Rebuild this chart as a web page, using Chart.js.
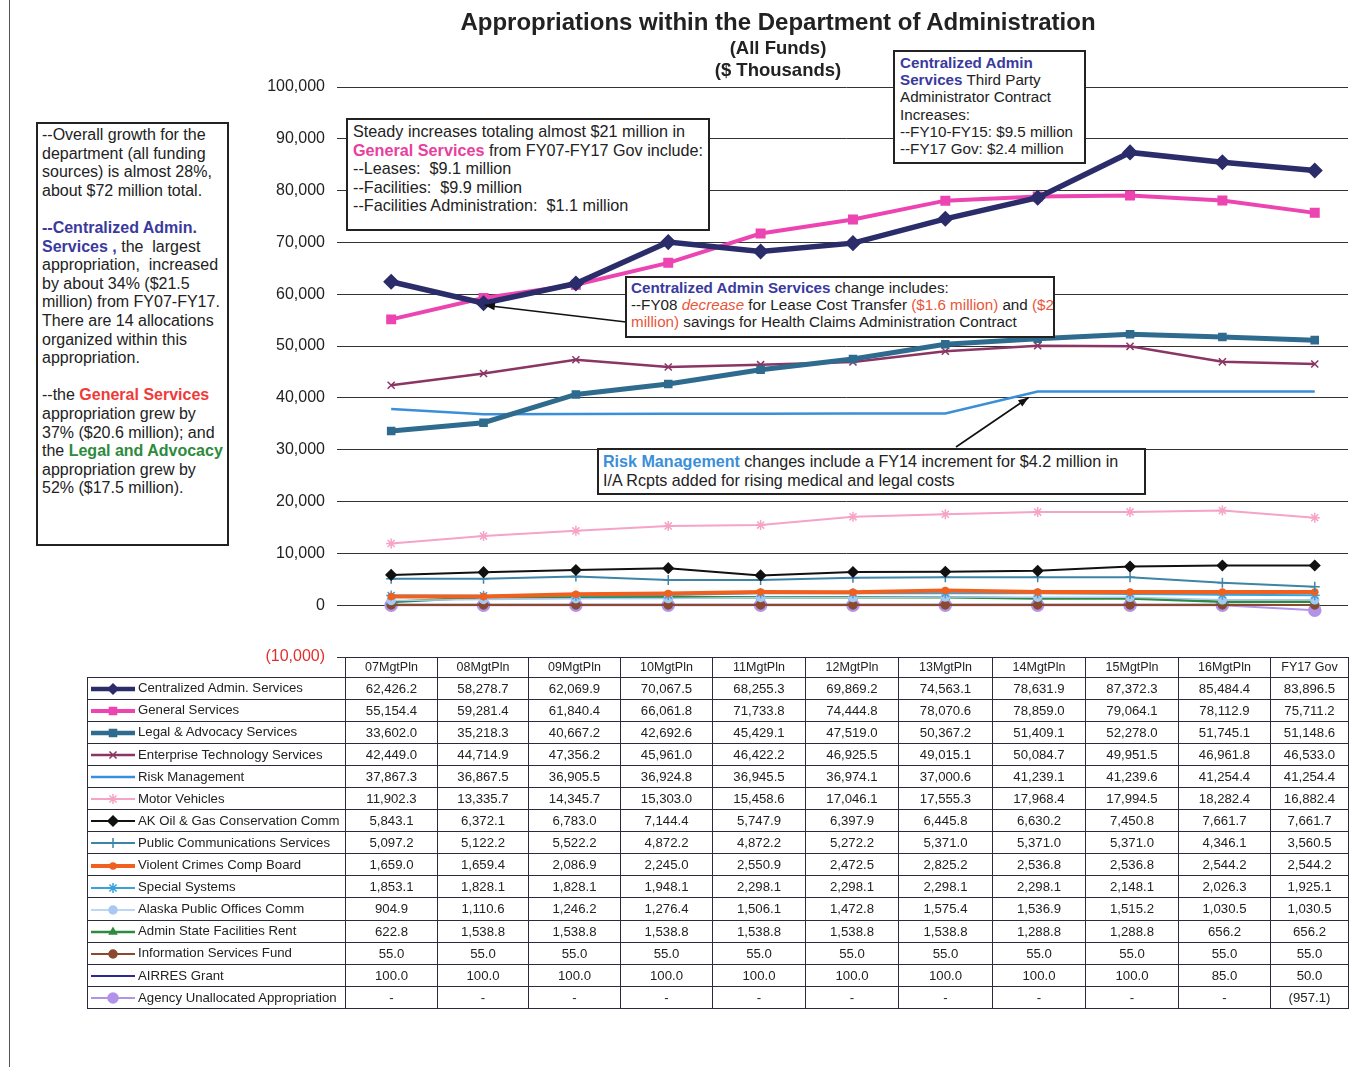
<!DOCTYPE html>
<html>
<head>
<meta charset="utf-8">
<title>Appropriations within the Department of Administration</title>
<script src="https://cdn.jsdelivr.net/npm/chart.js@4.4.1/dist/chart.umd.min.js"></script>
<style>
  body { margin: 0; background: #fff; font-family: Arial, "Liberation Sans", sans-serif; color: #222; }
  #wrap { position: relative; width: 1364px; height: 1067px; overflow: hidden; }
  #chart { position: absolute; left: 0; top: 0; }
  #frame { position: absolute; left: 9px; top: 0; width: 0; height: 1067px; border-left: 1.5px solid #555; }
  .ttl { position: absolute; left: 0; width: 1556px; text-align: center; font-weight: bold; color: #222; }
  .note { position: absolute; background: #fff; border: 2px solid #222; box-sizing: border-box; color: #222;
          white-space: nowrap; overflow: hidden; }
  .blue { color: #3a3a9e; font-weight: bold; }
  .mag { color: #e8409e; font-weight: bold; }
  .red { color: #f03a3a; font-weight: bold; }
  .green { color: #2e8a3c; font-weight: bold; }
  .rm { color: #3a8fd8; font-weight: bold; }
  .warn { color: #e8553a; }
  #dataTable { position: absolute; left: 87px; top: 657px; border-collapse: collapse; table-layout: fixed;
               font-size: 13.2px; color: #222; }
  #dataTable td { border: 1.5px solid #2a2a3a; text-align: center; padding: 0; height: 21.1px; white-space: nowrap; overflow: hidden; }
  #dataTable td.lab { text-align: left; padding-left: 2px; }
  #dataTable td.lab canvas { vertical-align: middle; margin-right: 2px; }
  #dataTable tr.head td { height: 18.5px; font-size: 12.5px; }
  #dataTable tr.head td.blank { border: none; }
</style>
</head>
<body>
<div id="wrap">
  <canvas id="chart" width="1364" height="1067"></canvas>
  <div id="frame"></div>

  <div class="ttl" style="top:8px;font-size:24px;">Appropriations within the Department of Administration</div>
  <div class="ttl" style="top:37px;font-size:18.5px;">(All Funds)</div>
  <div class="ttl" style="top:59px;font-size:18.5px;">($ Thousands)</div>

  <div class="note" style="left:36px;top:122px;width:193px;height:424px;font-size:16px;line-height:18.6px;padding:2px 0 0 4px;">
    --Overall growth for the<br>department (all funding<br>sources) is almost 28%,<br>about $72 million total.<br><br>
    <span class="blue">--Centralized Admin.</span><br><span class="blue">Services ,</span> the&nbsp; largest<br>
    appropriation,&nbsp; increased<br>by about 34% ($21.5<br>million) from FY07-FY17.<br>There are 14 allocations<br>
    organized within this<br>appropriation.<br><br>
    --the <span class="red">General Services</span><br>appropriation grew by<br>37% ($20.6 million); and<br>
    the <span class="green">Legal and Advocacy</span><br>appropriation grew by<br>52% ($17.5 million).
  </div>

  <div class="note" style="left:346px;top:118px;width:364px;height:113px;font-size:16.2px;line-height:18.6px;padding:2px 0 0 5px;">
    Steady increases totaling almost $21 million in<br>
    <span class="mag">General Services</span> from FY07-FY17 Gov include:<br>
    --Leases:&nbsp; $9.1 million<br>--Facilities:&nbsp; $9.9 million<br>--Facilities Administration:&nbsp; $1.1 million
  </div>

  <div class="note" style="left:893px;top:50px;width:193px;height:114px;font-size:15.2px;line-height:17.2px;padding:2px 0 0 5px;">
    <span class="blue">Centralized Admin</span><br><span class="blue">Services</span> Third Party<br>
    Administrator Contract<br>Increases:<br>--FY10-FY15: $9.5 million<br>--FY17 Gov: $2.4 million
  </div>

  <div class="note" style="left:625px;top:276px;width:430px;height:62px;font-size:15.2px;line-height:17.2px;padding:1px 0 0 4px;">
    <span class="blue">Centralized Admin Services</span> change includes:<br>
    --FY08 <i class="warn">decrease</i> for Lease Cost Transfer <span class="warn">($1.6 million)</span> and <span class="warn">($2</span><br>
    <span class="warn">million)</span> savings for Health Claims Administration Contract
  </div>

  <div class="note" style="left:597px;top:448px;width:549px;height:47px;font-size:16.1px;line-height:19px;padding:2px 0 0 4px;">
    <span class="rm">Risk Management</span> changes include a FY14 increment for $4.2 million in<br>
    I/A Rcpts added for rising medical and legal costs
  </div>

  <table id="dataTable"></table>
</div>

<script>
// ---- data (in $ thousands) ----
const categories = ['07MgtPln', '08MgtPln', '09MgtPln', '10MgtPln', '11MgtPln', '12MgtPln',
                    '13MgtPln', '14MgtPln', '15MgtPln', '16MgtPln', 'FY17 Gov'];

const centralizedAdmin    = [62426.2, 58278.7, 62069.9, 70067.5, 68255.3, 69869.2, 74563.1, 78631.9, 87372.3, 85484.4, 83896.5];
const generalServices     = [55154.4, 59281.4, 61840.4, 66061.8, 71733.8, 74444.8, 78070.6, 78859.0, 79064.1, 78112.9, 75711.2];
const legalAdvocacy       = [33602.0, 35218.3, 40667.2, 42692.6, 45429.1, 47519.0, 50367.2, 51409.1, 52278.0, 51745.1, 51148.6];
const enterpriseTech      = [42449.0, 44714.9, 47356.2, 45961.0, 46422.2, 46925.5, 49015.1, 50084.7, 49951.5, 46961.8, 46533.0];
const riskMgmt            = [37867.3, 36867.5, 36905.5, 36924.8, 36945.5, 36974.1, 37000.6, 41239.1, 41239.6, 41254.4, 41254.4];
const motorVehicles       = [11902.3, 13335.7, 14345.7, 15303.0, 15458.6, 17046.1, 17555.3, 17968.4, 17994.5, 18282.4, 16882.4];
const akOilGas            = [5843.1, 6372.1, 6783.0, 7144.4, 5747.9, 6397.9, 6445.8, 6630.2, 7450.8, 7661.7, 7661.7];
const publicComm          = [5097.2, 5122.2, 5522.2, 4872.2, 4872.2, 5272.2, 5371.0, 5371.0, 5371.0, 4346.1, 3560.5];
const violentCrimes       = [1659.0, 1659.4, 2086.9, 2245.0, 2550.9, 2472.5, 2825.2, 2536.8, 2536.8, 2544.2, 2544.2];
const specialSystems      = [1853.1, 1828.1, 1828.1, 1948.1, 2298.1, 2298.1, 2298.1, 2298.1, 2148.1, 2026.3, 1925.1];
const alaskaPublicOffices = [904.9, 1110.6, 1246.2, 1276.4, 1506.1, 1472.8, 1575.4, 1536.9, 1515.2, 1030.5, 1030.5];
const adminFacilitiesRent = [622.8, 1538.8, 1538.8, 1538.8, 1538.8, 1538.8, 1538.8, 1288.8, 1288.8, 656.2, 656.2];
const infoServicesFund    = [55.0, 55.0, 55.0, 55.0, 55.0, 55.0, 55.0, 55.0, 55.0, 55.0, 55.0];
const airresGrant         = [100.0, 100.0, 100.0, 100.0, 100.0, 100.0, 100.0, 100.0, 100.0, 85.0, 50.0];
const agencyUnallocated   = [0, 0, 0, 0, 0, 0, 0, 0, 0, 0, -957.1];

const seriesNames = ['Centralized Admin. Services', 'General Services', 'Legal & Advocacy Services',
  'Enterprise Technology Services', 'Risk Management', 'Motor Vehicles', 'AK Oil & Gas Conservation Comm',
  'Public Communications Services', 'Violent Crimes Comp Board', 'Special Systems', 'Alaska Public Offices Comm',
  'Admin State Facilities Rent', 'Information Services Fund', 'AIRRES Grant', 'Agency Unallocated Appropriation'];
const seriesValues = [centralizedAdmin, generalServices, legalAdvocacy, enterpriseTech, riskMgmt, motorVehicles,
  akOilGas, publicComm, violentCrimes, specialSystems, alaskaPublicOffices, adminFacilitiesRent,
  infoServicesFund, airresGrant, agencyUnallocated];

const yTicks = { min: -10000, max: 100000, step: 10000 };

// ---- styles (colour, line width, marker) ----
const seriesStyles = [
  { color: '#2b2c6a', width: 5.5, marker: 'rectRot',  r: 7 },
  { color: '#ec45b2', width: 4,   marker: 'rect',     r: 6 },
  { color: '#2e6b8e', width: 5,   marker: 'rect',     r: 5 },
  { color: '#8a3564', width: 2.5, marker: 'crossRot', r: 5 },
  { color: '#3b8fd9', width: 2.5, marker: false,      r: 0 },
  { color: '#f5a3c6', width: 2,   marker: 'star',     r: 5 },
  { color: '#111111', width: 2,   marker: 'rectRot',  r: 5 },
  { color: '#3d84a6', width: 2,   marker: 'cross',    r: 5 },
  { color: '#f0601e', width: 4,   marker: 'circle',   r: 3 },
  { color: '#37a2dc', width: 2,   marker: 'star',     r: 5 },
  { color: '#a9c9f2', width: 1.5, marker: 'circle',   r: 4 },
  { color: '#2f8a3e', width: 2.5, marker: 'triangle', r: 4 },
  { color: '#8b4a30', width: 2,   marker: 'circle',   r: 4 },
  { color: '#2a2a92', width: 2,   marker: false,      r: 0 },
  { color: '#b193ea', width: 2,   marker: 'circle',   r: 6 }
];

// ---- chart ----
const datasets = seriesValues.map((vals, i) => {
  const s = seriesStyles[i];
  return {
    label: seriesNames[i],
    data: vals.map((v, j) => ({ x: j, y: v })),
    borderColor: s.color,
    backgroundColor: s.color,
    borderWidth: s.width,
    pointStyle: s.marker,
    pointRadius: s.r,
    pointBorderWidth: 1.5,
    pointBorderColor: s.color,
    pointBackgroundColor: s.color,
    tension: 0,
    clip: false
  };
});

function drawArrow(ctx, x1, y1, x2, y2) {
  const a = Math.atan2(y2 - y1, x2 - x1);
  ctx.save();
  ctx.strokeStyle = '#111';
  ctx.fillStyle = '#111';
  ctx.lineWidth = 1.6;
  ctx.beginPath();
  ctx.moveTo(x1, y1);
  ctx.lineTo(x2, y2);
  ctx.stroke();
  ctx.beginPath();
  ctx.moveTo(x2, y2);
  ctx.lineTo(x2 - 11 * Math.cos(a - 0.35), y2 - 11 * Math.sin(a - 0.35));
  ctx.lineTo(x2 - 11 * Math.cos(a + 0.35), y2 - 11 * Math.sin(a + 0.35));
  ctx.closePath();
  ctx.fill();
  ctx.restore();
}

const arrowPlugin = {
  id: 'arrows',
  afterDatasetsDraw(chart) {
    const xs = chart.scales.x, ys = chart.scales.y;
    drawArrow(chart.ctx, 626, 322, xs.getPixelForValue(1) + 1, ys.getPixelForValue(centralizedAdmin[1]) + 2);
    drawArrow(chart.ctx, 956, 447, xs.getPixelForValue(7) - 9, ys.getPixelForValue(riskMgmt[7]) + 6);
  }
};

new Chart(document.getElementById('chart').getContext('2d'), {
  type: 'line',
  data: { datasets: datasets },
  options: {
    responsive: false,
    animation: false,
    layout: { padding: { left: 265, right: 16, top: 87, bottom: 410 } },
    plugins: { legend: { display: false }, title: { display: false }, tooltip: { enabled: false } },
    scales: {
      x: { type: 'linear', min: -0.5, max: 10.36, display: false },
      y: {
        min: yTicks.min, max: yTicks.max,
        afterFit: s => { s.width = 80; },
        ticks: {
          stepSize: yTicks.step,
          padding: 12,
          font: { family: 'Arial, "Liberation Sans", sans-serif', size: 16 },
          color: c => c.tick.value < 0 ? '#e0302c' : '#222',
          callback: v => v < 0 ? '(' + Math.abs(v).toLocaleString('en-US') + ')' : v.toLocaleString('en-US')
        },
        grid: { color: '#333', lineWidth: 1, tickLength: 8, drawTicks: true },
        border: { display: false }
      }
    }
  },
  plugins: [arrowPlugin]
});

// ---- data table with legend keys ----
function fmt(v) {
  if (v === 0) return '-';
  const s = Math.abs(v).toLocaleString('en-US', { minimumFractionDigits: 1, maximumFractionDigits: 1 });
  return v < 0 ? '(' + s + ')' : s;
}

const colWidths = [258, 92, 91, 92, 92, 93, 93, 94, 93, 93, 92, 78];
const table = document.getElementById('dataTable');
let html = '<colgroup>' + colWidths.map(w => '<col style="width:' + w + 'px">').join('') + '</colgroup>';
html += '<tr class="head"><td class="blank"></td>' + categories.map(c => '<td>' + c + '</td>').join('') + '</tr>';
seriesNames.forEach((name, i) => {
  html += '<tr><td class="lab"><canvas id="key' + i + '" width="46" height="14"></canvas>' + name.replace(/&/g, '&amp;') + '</td>' +
    seriesValues[i].map(v => '<td>' + fmt(v) + '</td>').join('') + '</tr>';
});
table.innerHTML = html;

seriesStyles.forEach((s, i) => {
  const c = document.getElementById('key' + i).getContext('2d');
  c.strokeStyle = s.color;
  c.fillStyle = s.color;
  c.lineWidth = Math.min(s.width, 4.5);
  c.beginPath();
  c.moveTo(1, 7);
  c.lineTo(45, 7);
  c.stroke();
  if (s.marker) {
    c.lineWidth = 1.5;
    Chart.helpers.drawPoint(c, { pointStyle: s.marker, radius: Math.min(s.r, 5), rotation: 0, borderWidth: 1.5 }, 23, 7);
  }
});
</script>
</body>
</html>
